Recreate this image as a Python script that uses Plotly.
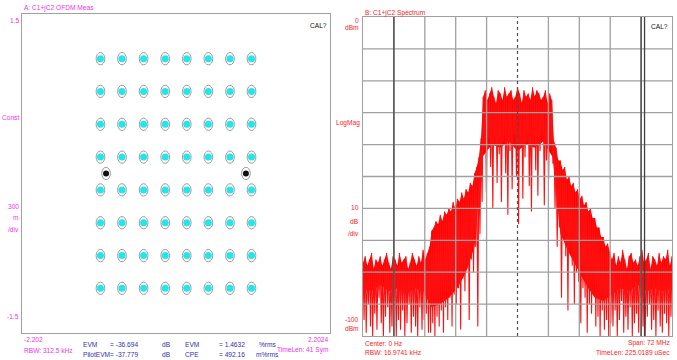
import plotly.graph_objects as go

W, H = 677, 360

# ---------------- Constellation (64-QAM, normalised) ----------------
qam_levels = [-1.080, -0.772, -0.463, -0.154, 0.154, 0.463, 0.772, 1.080]
pilot_i = [-1.0, 1.0]
pilot_q = [0.0, 0.0]
const_x_range = [-2.202, 2.2024]
const_y_range = [-1.5, 1.5]

# ---------------- Spectrum ----------------
span_mhz = [-36, 36]
level_dbm = [-100, 0]
bin_start_mhz = -36.0
bin_step_mhz = 0.5
peak_dbm = [
    # noise floor left (-36 .. -21 MHz)
    -77, -75, -78, -76, -74, -79, -76, -77, -75, -78, -76, -74, -77, -79, -75, -76,
    -78, -74, -77, -76, -75, -79, -77, -74, -76, -78, -75, -77, -73, -76, -74,
    # left shoulder (-20.5 .. -8.5 MHz)
    -72, -67, -66, -64, -65, -62, -64, -61, -62, -60, -61, -58, -60, -57, -58, -55,
    -57, -54, -55, -52, -53, -49, -47, -44, -38,
    # occupied band (-8 .. 8 MHz)
    -25, -23, -26, -24, -22, -25, -27, -23, -24, -26, -22, -25, -24, -23, -26, -25,
    -22, -24, -27, -23, -25, -24, -26, -22, -25, -23, -24, -26, -25, -23, -27, -24, -26,
    # right shoulder (8.5 .. 21.5 MHz)
    -39, -41, -45, -45, -48, -47, -51, -50, -53, -52, -55, -54, -57, -56, -59, -58,
    -61, -60, -63, -63, -66, -66, -69, -69, -72, -71, -74,
    # noise floor right (22 .. 36 MHz)
    -76, -74, -78, -75, -77, -73, -76, -79, -75, -74, -77, -76, -78, -75, -73, -77,
    -76, -74, -79, -75, -76, -78, -74, -77, -75, -76, -73, -78, -75,
]
trough_dbm = [
    # noise floor left
    -95, -99, -90, -97, -100, -93, -98, -88, -96, -100, -94, -91, -99, -97, -89, -100,
    -95, -98, -92, -100, -96, -90, -99, -94, -97, -100, -91, -98, -95, -93, -99,
    # left shoulder
    -99, -96, -100, -94, -97, -92, -99, -91, -95, -88, -97, -87, -90, -85, -98, -82,
    -86, -79, -95, -76, -80, -72, -97, -68, -58,
    # occupied band
    -41, -55, -38, -47, -60, -40, -52, -43, -58, -39, -49, -62, -42, -54, -37, -50,
    -65, -41, -57, -44, -39, -53, -61, -40, -48, -56, -42, -38, -59, -45, -51, -40, -46,
    # right shoulder
    -60, -72, -66, -88, -70, -75, -92, -74, -78, -90, -80, -83, -96, -85, -88, -99,
    -90, -93, -87, -97, -94, -100, -92, -98, -95, -100, -96,
    # noise floor right
    -97, -92, -100, -95, -89, -99, -94, -98, -91, -100, -96, -93, -99, -88, -97, -100,
    -94, -90, -98, -95, -100, -92, -97, -99, -93, -96, -100, -94,
]
# lower edge of the solid (dense) part of the trace, every 2 MHz
core_freq_mhz = [-36, -34, -32, -30, -28, -26, -24, -22, -20, -18, -16, -14, -12, -10,
                 -8.2, -6, -4, -2, 0, 2, 4, 6, 8.2, 10, 12, 14, 16, 18, 20, 22, 24, 26,
                 28, 30, 32, 34, 36]
core_dbm = [-85, -86, -84, -86, -85, -87, -85, -86, -91, -90, -88, -85, -80, -72,
            -44, -40, -41, -39, -42, -40, -41, -39, -44, -68, -74, -79, -84, -88, -89, -87, -85, -86,
            -84, -86, -85, -86, -85]
grid_x_mhz = [-36 + 7.2 * k for k in range(11)]
grid_y_dbm = [-100 + 10 * k for k in range(11)]
marker_lines_mhz = [-28.8, 28.8, 29.6]

# ---------------- helpers ----------------
def px(x):
    return x / W

def py(y):
    return 1 - y / H

FONT = "Liberation Sans, Arial, sans-serif"
FS = 6.6
MAG = "#ee30ee"
BLUE = "#3030b0"
RED = "#ff2020"

fig = go.Figure()

# constellation points
ci = [i for q in qam_levels for i in qam_levels]
cq = [q for q in qam_levels for i in qam_levels]
fig.add_trace(go.Scatter(x=ci, y=cq, mode="markers", xaxis="x", yaxis="y",
                         marker=dict(color="#22e6ee", size=7, line=dict(width=0)),
                         hoverinfo="skip", showlegend=False))
fig.add_trace(go.Scatter(x=pilot_i, y=pilot_q, mode="markers", xaxis="x", yaxis="y",
                         marker=dict(color="#101010", size=6, line=dict(width=0)),
                         hoverinfo="skip", showlegend=False))

shapes = []
for xi, yq in list(zip(ci, cq)) + list(zip(pilot_i, pilot_q)):
    shapes.append(dict(type="circle", xref="x", yref="y",
                       x0=xi - 0.062, x1=xi + 0.062, y0=yq - 0.058, y1=yq + 0.058,
                       line=dict(color="#9a9a9a", width=1)))

# spectrum: solid core band
peak_freq = [bin_start_mhz + bin_step_mhz * k for k in range(len(peak_dbm))]
fig.add_trace(go.Scatter(x=peak_freq + core_freq_mhz[::-1], y=peak_dbm + core_dbm[::-1],
                         mode="lines", fill="toself", fillcolor="#ff0000",
                         line=dict(width=0, color="#ff0000"), xaxis="x2", yaxis="y2",
                         hoverinfo="skip", showlegend=False))

# spectrum zig-zag trace (peak / trough per bin)
sx, sy = [], []
for k, p in enumerate(peak_dbm):
    f = peak_freq[k]
    sx.append(f)
    sy.append(p)
    if k < len(trough_dbm):
        sx.append(f + bin_step_mhz / 2)
        sy.append(trough_dbm[k])
fig.add_trace(go.Scatter(x=sx, y=sy, mode="lines", xaxis="x2", yaxis="y2",
                         line=dict(color="#ff1010", width=1.1),
                         hoverinfo="skip", showlegend=False))

# spectrum grid above trace
for gx in grid_x_mhz[1:-1]:
    if abs(gx) < 1e-9:
        continue
    shapes.append(dict(type="line", xref="x2", yref="y2", x0=gx, x1=gx,
                       y0=level_dbm[0], y1=level_dbm[1], layer="above",
                       line=dict(color="#a0a0a0", width=1.3)))
for gy in grid_y_dbm[1:-1]:
    shapes.append(dict(type="line", xref="x2", yref="y2", x0=span_mhz[0], x1=span_mhz[1],
                       y0=gy, y1=gy, layer="above",
                       line=dict(color="#a0a0a0", width=1.3)))
for mx in marker_lines_mhz:
    shapes.append(dict(type="line", xref="x2", yref="y2", x0=mx, x1=mx,
                       y0=level_dbm[0], y1=level_dbm[1], layer="above",
                       line=dict(color="#404040", width=1.3)))
shapes.append(dict(type="line", xref="x2", yref="y2", x0=0, x1=0,
                   y0=level_dbm[0], y1=level_dbm[1], layer="above",
                   line=dict(color="#505050", width=1.2, dash="dot")))

# ---------------- text ----------------
ann = []
def txt(s, x, y, color, anchor="left", size=FS):
    ann.append(dict(text=s, x=px(x), y=py(y), xref="paper", yref="paper",
                    xanchor=anchor, yanchor="middle", showarrow=False,
                    font=dict(family=FONT, size=size, color=color)))

# left panel
txt("A: C1+jC2 OFDM Meas", 22, 8, MAG)
txt("1.5", 21, 20, MAG, "right")
txt("Const", 21, 118, MAG, "right")
txt("300", 21, 206, MAG, "right")
txt("m", 21, 218, MAG, "right")
txt("/div", 21, 229, MAG, "right")
txt("-1.5", 21, 316, MAG, "right")
txt("CAL?", 329, 26, "#111111", "right")
txt("-2.202", 22, 339, MAG)
txt("RBW: 312.5 kHz", 22, 350, MAG)
txt("2.2024", 331, 339, MAG, "right")
txt("TimeLen: 41 Sym", 331, 350, MAG, "right")
txt("EVM", 81, 344, BLUE)
txt("= -36.694", 108, 344, BLUE)
txt("dB", 160, 344, BLUE)
txt("EVM", 183, 344, BLUE)
txt("= 1.4632", 217, 344, BLUE)
txt("%rms", 257, 344, BLUE)
txt("PilotEVM", 81, 354, BLUE)
txt("= -37.779", 108, 354, BLUE)
txt("dB", 160, 354, BLUE)
txt("CPE", 183, 354, BLUE)
txt("= 492.16", 217, 354, BLUE)
txt("m%rms", 254, 354, BLUE)

# right panel
txt("B: C1+jC2 Spectrum", 363, 13, RED)
txt("0", 361, 20, RED, "right")
txt("dBm", 361, 28, RED, "right")
txt("CAL?", 670, 27, "#111111", "right")
txt("LogMag", 362, 123, RED, "right")
txt("10", 361, 208, RED, "right")
txt("dB", 361, 221, RED, "right")
txt("/div", 361, 233, RED, "right")
txt("-100", 361, 319, RED, "right")
txt("dBm", 361, 328, RED, "right")
txt("Center: 0 Hz", 363, 343, RED)
txt("RBW: 16.9741 kHz", 363, 352, RED)
txt("Span: 72 MHz", 672, 343, RED, "right")
txt("TimeLen: 225.0189 uSec", 672, 352, RED, "right")

axis_common = dict(showgrid=False, zeroline=False, showticklabels=False, ticks="",
                   showline=True, mirror=True, linecolor="#a0a0a0", linewidth=1.3,
                   fixedrange=True)

fig.update_layout(
    width=W, height=H, autosize=False,
    margin=dict(l=0, r=0, t=0, b=0),
    paper_bgcolor="white", plot_bgcolor="white",
    xaxis=dict(domain=[px(22), px(330)], range=const_x_range, anchor="y", **axis_common),
    yaxis=dict(domain=[py(333), py(14)], range=const_y_range, anchor="x", **axis_common),
    xaxis2=dict(domain=[px(363), px(672)], range=span_mhz, anchor="y2", **axis_common),
    yaxis2=dict(domain=[py(336), py(17)], range=level_dbm, anchor="x2", **axis_common),
    shapes=shapes,
    annotations=ann,
    showlegend=False,
)

fig.write_html("out.html", config={"displayModeBar": False},
               post_script="document.body.style.margin='0px';document.body.style.overflow='hidden';")
